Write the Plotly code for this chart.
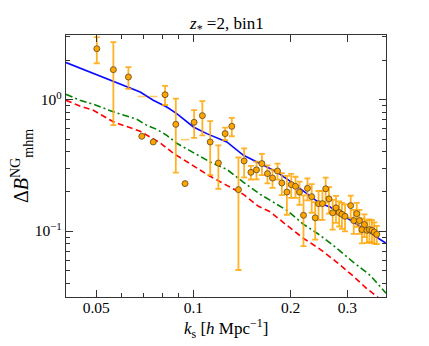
import numpy as np
import plotly.graph_objects as go

# measured points (k_s, Delta B, error)
K_DATA = [0.0502, 0.0565, 0.0629, 0.0692, 0.0751, 0.0817, 0.0882, 0.0942, 0.1005, 0.1066,
          0.1127, 0.1195, 0.1254, 0.1315, 0.1379, 0.1436, 0.1507, 0.1568, 0.1630, 0.1696,
          0.1758, 0.1822, 0.1879, 0.1948, 0.2009, 0.2071, 0.2131, 0.2193, 0.2256, 0.2325,
          0.2384, 0.2441, 0.2510, 0.2569, 0.2630, 0.2700, 0.2765, 0.2829, 0.2884, 0.2949,
          0.3071, 0.3138, 0.3206, 0.3268, 0.3327, 0.3387, 0.3448, 0.3510, 0.3573, 0.3632,
          0.3698]
B_DATA = [2.44, 1.69, 1.486, 0.526, 0.476, 1.09, 0.648, 0.2295, 0.672, 0.755,
          0.476, 0.329, 0.551, 0.626, 0.2065, 0.341, 0.2797, 0.292, 0.326, 0.2734,
          0.2531, 0.2861, 0.2318, 0.198, 0.2255, 0.2189, 0.198, 0.1317, 0.2113, 0.1827,
          0.126, 0.1616, 0.1616, 0.2096, 0.1758, 0.1376, 0.1502, 0.1383, 0.134, 0.1294,
          0.1561, 0.12, 0.1356, 0.12, 0.1025, 0.112, 0.1012, 0.1025, 0.1012, 0.0983,
          0.0944]
B_ERR = [0.55, 1.05, 0.28, 0.53, 0.58, 0.18, 0.37, 0.2665, 0.16, 0.22,
         0.21, 0.12, 0.06, 0.10, 0.156, 0.085, 0.033, 0.045, 0.06, 0.043,
         0.04, 0.04, 0.044, 0.065, 0.047, 0.04, 0.04, 0.055, 0.04, 0.045,
         0.04, 0.04, 0.04, 0.045, 0.04, 0.035, 0.035, 0.03, 0.03, 0.03,
         0.03, 0.025, 0.028, 0.025, 0.022, 0.022, 0.02, 0.02, 0.02, 0.018,
         0.015]

# model curves
K_BLUE = [0.0403, 0.049, 0.0565, 0.0622, 0.0684, 0.0751, 0.0827, 0.0888, 0.1, 0.11,
          0.1269, 0.1429, 0.1499, 0.1648, 0.1814, 0.2042, 0.2246, 0.247, 0.2653, 0.306,
          0.353, 0.394]
B_BLUE = [1.913, 1.577, 1.378, 1.247, 1.143, 0.988, 0.878, 0.782, 0.619, 0.551,
          0.476, 0.377, 0.3556, 0.316, 0.281, 0.2295, 0.1926, 0.1616, 0.1523, 0.1206,
          0.0955, 0.081]

K_GREEN = [0.0403, 0.0445, 0.049, 0.0565, 0.0668, 0.0717, 0.077, 0.0827, 0.0888, 0.1,
           0.1127, 0.1269, 0.1429, 0.161, 0.1729, 0.1948, 0.2193, 0.247, 0.2783, 0.3133,
           0.353, 0.395]
B_GREEN = [1.097, 0.988, 0.921, 0.807, 0.708, 0.637, 0.594, 0.535, 0.465, 0.3937,
           0.335, 0.2948, 0.2348, 0.1902, 0.1713, 0.1437, 0.1125, 0.0928, 0.0738, 0.0578,
           0.046, 0.0336]

K_RED = [0.0403, 0.0445, 0.049, 0.0565, 0.0684, 0.0789, 0.0867, 0.1, 0.1127, 0.1269,
         0.1429, 0.159, 0.1729, 0.1948, 0.2193, 0.247, 0.2783, 0.3133, 0.3448, 0.395]
B_RED = [0.988, 0.894, 0.829, 0.678, 0.574, 0.469, 0.3903, 0.3108, 0.2608, 0.2227,
         0.1902, 0.1542, 0.14, 0.1105, 0.088, 0.0726, 0.0578, 0.0452, 0.0364, 0.028]

X_TICKS = [0.05, 0.1, 0.2, 0.3]
X_TICKTEXT = ["0.05", "0.1", "0.2", "0.3"]
X_MINOR = [0.06, 0.07, 0.08, 0.09]
Y_TICKS = [0.1, 1]
Y_TICKTEXT = ["10<sup>\u22121</sup>", "10<sup>0</sup>"]
Y_MINOR = [0.04, 0.05, 0.06, 0.07, 0.08, 0.09, 0.2, 0.3, 0.4, 0.5, 0.6, 0.7, 0.8, 0.9, 2, 3]

FONT = "Liberation Serif, DejaVu Serif, serif"
FRAME = "#333333"
ORANGE = "#ffa500"

k = np.array(K_DATA)
b = np.array(B_DATA)
e = np.array(B_ERR)
# like matplotlib on a log axis: bars reaching below zero are dropped, only the top cap stays
neg = (b - e) <= 0
e_bar = np.where(neg, 0.0, e)

fig = go.Figure()
fig.add_trace(go.Scatter(x=K_BLUE, y=B_BLUE, mode="lines",
                         line=dict(color="#0a0aff", width=1.6), hoverinfo="skip"))
fig.add_trace(go.Scatter(x=K_GREEN, y=B_GREEN, mode="lines",
                         line=dict(color="#008000", width=1.6, dash="7px,3px,2px,3px"), hoverinfo="skip"))
fig.add_trace(go.Scatter(x=K_RED, y=B_RED, mode="lines",
                         line=dict(color="#ff0000", width=1.6, dash="6px,3.5px"), hoverinfo="skip"))
fig.add_trace(go.Scatter(x=k[neg], y=(b + e)[neg], mode="markers",
                         marker=dict(symbol="line-ew", size=6, line=dict(color="rgba(255,165,0,0.6)", width=1.5)),
                         hoverinfo="skip"))
fig.add_trace(go.Scatter(
    x=k, y=b, mode="markers",
    error_y=dict(type="data", array=e_bar, color="rgba(255,165,0,0.85)", thickness=1.8, width=3),
    marker=dict(color=ORANGE, size=6, line=dict(color="#5a4520", width=0.8)),
))

axis_common = dict(
    type="log", showgrid=False, zeroline=False, automargin=False,
    showline=True, linecolor=FRAME, linewidth=1.3, mirror="allticks",
    ticks="inside", ticklen=7, tickwidth=1, tickcolor=FRAME,
    tickfont=dict(family=FONT, size=15.5, color="black"),
)

fig.update_layout(
    width=429, height=346,
    margin=dict(l=66, r=43, t=35, b=49),
    paper_bgcolor="white", plot_bgcolor="white",
    showlegend=False,
    font=dict(family=FONT, color="black"),
    xaxis=dict(
        axis_common,
        range=[np.log10(0.0403), np.log10(0.395)],
        tickmode="array", tickvals=X_TICKS, ticktext=X_TICKTEXT,
        ticklabelstandoff=-4,
        minor=dict(tickmode="array", tickvals=X_MINOR, ticks="inside", ticklen=3.5, tickcolor=FRAME, tickwidth=1),
    ),
    yaxis=dict(
        axis_common,
        range=[-1.502, 0.4916],
        tickmode="array", tickvals=Y_TICKS, ticktext=Y_TICKTEXT,
        ticklabelstandoff=0,
        minor=dict(tickmode="array", tickvals=Y_MINOR, ticks="inside", ticklen=3.5, tickcolor=FRAME, tickwidth=1),
    ),
    annotations=[
        dict(text="<i>z</i><sub>*</sub> =2, bin1", x=0.5, y=1, xref="paper", yref="paper",
             xanchor="center", yanchor="bottom", yshift=-3, showarrow=False,
             font=dict(family=FONT, size=17, color="black")),
        dict(text="<i>k</i><sub>s</sub> [<i>h</i> Mpc<sup>\u22121</sup>]", x=0.5, y=0, xref="paper", yref="paper",
             xanchor="center", yanchor="middle", yshift=-31, showarrow=False,
             font=dict(family=FONT, size=17, color="black")),
        dict(text="\u0394<i>B</i><sup>NG</sup><sub>mhm</sub>", x=0, y=0.5, xref="paper", yref="paper",
             xanchor="center", yanchor="middle", xshift=-44, textangle=-90, showarrow=False,
             font=dict(family=FONT, size=20, color="black")),
    ],
)

fig.write_html("out.html", config={"displayModeBar": False},
               post_script="document.body.style.margin='0';")
